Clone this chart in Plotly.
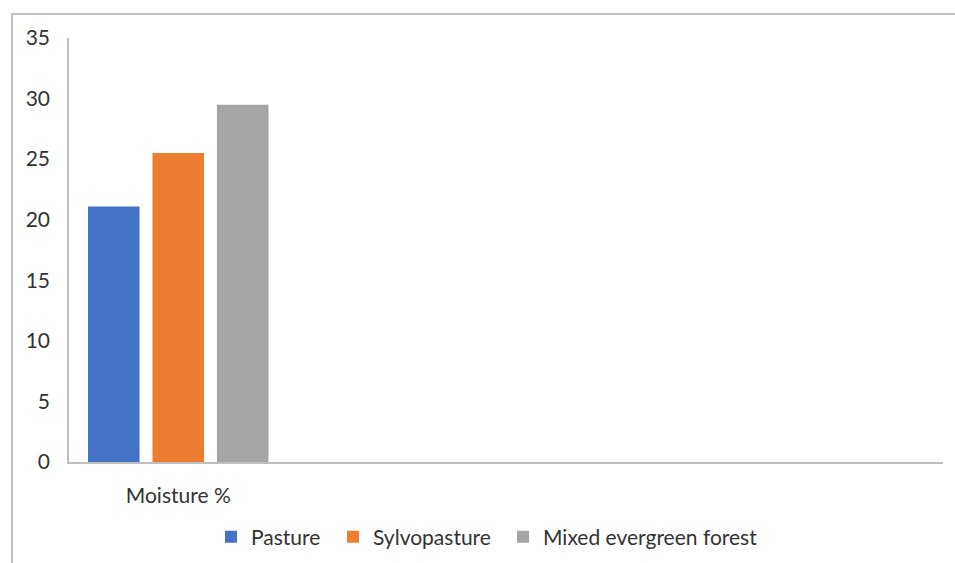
import plotly.graph_objects as go

# Category slots on the x axis (only the first one carries data)
categories = ["Moisture %", " ", "  ", "   "]
series_names = ["Pasture", "Sylvopasture", "Mixed evergreen forest"]
pasture = [21.1, None, None, None]
sylvopasture = [25.5, None, None, None]
mixed_forest = [29.5, None, None, None]
y_ticks = [0, 5, 10, 15, 20, 25, 30, 35]

colors = ["#4472C4", "#ED7D31", "#A5A5A5"]
font_family = "Lato, 'Open Sans', sans-serif"
text_color = "#333333"
line_color = "#BFBFBF"

W, H = 955, 563
ml, mr, mt, mb = 69, 12, 38, 101
pw, ph = W - ml - mr, H - mt - mb

# left edge (px) of each legend entry's label in the bottom row
legend_text_x = [253, 375, 545]
legend_ids = ["legend", "legend2", "legend3"]

fig = go.Figure()
for name, vals, col, lg in zip(series_names, [pasture, sylvopasture, mixed_forest],
                               colors, legend_ids):
    fig.add_trace(go.Bar(x=categories, y=vals, name=name, legend=lg,
                         marker=dict(color=col, line=dict(width=0))))

# outer chart frame
def px_x(p):
    return (p - ml) / pw

def px_y(p):
    return (H - mb - p) / ph

fig.add_shape(type="rect", xref="paper", yref="paper",
              x0=px_x(12), x1=px_x(975), y0=px_y(580), y1=px_y(14),
              line=dict(color=line_color, width=2), fillcolor="rgba(0,0,0,0)",
              layer="below")

legend_style = dict(orientation="h", xref="container", xanchor="left",
                    yref="container", y=1 - 537 / H, yanchor="middle",
                    font=dict(size=21, color=text_color), itemwidth=30)

fig.update_layout(
    width=W, height=H,
    margin=dict(l=ml, r=mr, t=mt, b=mb, autoexpand=False),
    paper_bgcolor="white", plot_bgcolor="white",
    barmode="group", bargap=0.115, bargroupgap=0.2,
    font=dict(family=font_family, size=21, color=text_color),
    showlegend=True,
    xaxis=dict(type="category", range=[-0.5, 3.5], showgrid=False,
               showline=True, linecolor=line_color, linewidth=1.5,
               ticks="", ticklabelstandoff=14, fixedrange=True),
    yaxis=dict(range=[0, 35], tickvals=y_ticks, showgrid=False,
               showline=True, linecolor=line_color, linewidth=1.5,
               ticks="", ticklabelstandoff=13, zeroline=False),
)
for lg, tx in zip(legend_ids, legend_text_x):
    fig.update_layout({lg: dict(legend_style, x=(tx - 42) / W)})

fig.write_html("out.html")
